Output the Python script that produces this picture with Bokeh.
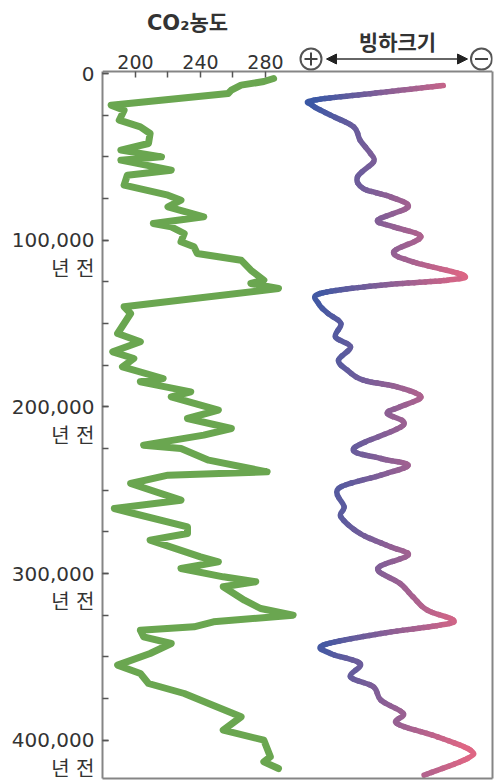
import math
import numpy as np
from bokeh.plotting import figure
from bokeh.models import Range1d, FixedTicker, Arrow, NormalHead, LinearAxis
from bokeh.core.properties import value
from bokeh.embed import file_html
from bokeh.resources import INLINE

# ---- data -------------------------------------------------------------
# Atmospheric CO2 (ppm) against age (years before present)
co2_age = [3000, 4800, 7000, 10000, 12000, 19000, 22000, 28000, 32000, 36000,
           42000, 46000, 50000, 52000, 58000, 61000, 67000, 73000, 76000, 80000,
           86000, 90000, 92000, 96000, 101000, 104000, 108000, 112000, 118000, 124000,
           126000, 129000, 140000, 144000, 156000, 161000, 167000, 171000, 176000, 183000,
           185000, 191000, 194000, 202000, 207000, 213000, 217000, 223000, 225000, 232000,
           239000, 241000, 246000, 256000, 261000, 264000, 272000, 276000, 280000, 290000,
           293000, 297000, 302000, 305000, 308000, 316000, 321000, 325000, 329000, 332000,
           334000, 338000, 342000, 348000, 355000, 360000, 366000, 372000, 378000, 386000,
           394000, 400000, 410000, 413000, 417000]
co2_ppm = [285, 279, 265, 259, 257, 185, 193, 190, 203, 209,
           208, 191, 216, 191, 222, 195, 193, 220, 228, 220,
           242, 211, 222, 230, 228, 236, 238, 265, 271, 279,
           271, 288, 193, 197, 189, 203, 186, 199, 192, 217,
           203, 234, 222, 251, 232, 259, 242, 205, 228, 245,
           281, 220, 197, 228, 187, 199, 232, 232, 209, 240,
           251, 228, 254, 274, 254, 267, 277, 297, 248, 236,
           203, 205, 222, 209, 189, 203, 208, 230, 245, 265,
           254, 279, 283, 279, 288]

# Relative ice volume (0 = least ice, 10 = most ice) against age
ice_age = [7200, 11400, 16000, 19000, 25000, 32000, 40000, 48000, 53000, 62000,
           69000, 74000, 80000, 88000, 92000, 98000, 107000, 113000, 121000, 124000,
           127000, 132000, 138000, 144000, 150000, 158000, 164000, 172000, 178000, 184000,
           188000, 194000, 200000, 204000, 211000, 225000, 231000, 235000, 241000, 249000,
           260000, 266000, 276000, 284000, 289000, 297000, 306000, 314000, 322000, 328000,
           331000, 336000, 343000, 348000, 354000, 362000, 368000, 376000, 384000, 390000,
           398000, 406000, 411000, 421000]
ice_vol = [1.7, 5.6, 9.8, 9.9, 8.75, 7.3, 6.9, 6.25, 6.06, 7.06,
           6.7, 5.0, 3.9, 5.8, 4.8, 3.1, 4.8, 3.6, 0.44, 1.44,
           5.6, 9.4, 9.5, 8.9, 8.1, 8.44, 7.5, 8.25, 7.7, 6.7,
           4.6, 3.1, 4.4, 5.2, 4.2, 7.3, 5.6, 3.9, 5.6, 8.25,
           7.9, 8.1, 6.9, 5.0, 3.9, 5.8, 4.4, 3.6, 2.7, 1.06,
           1.9, 5.6, 9.2, 8.75, 6.9, 7.5, 6.06, 5.6, 4.2, 4.6,
           2.06, 0.0, 0.19, 2.9]

co2_ticks = [200, 220, 240, 260, 280]
co2_tick_labels = {200: "200", 220: "", 240: "240", 260: "", 280: "280"}
age_ticks = [0, 100000, 200000, 300000, 400000]
age_tick_labels = {0: "0", 100000: "100,000", 200000: "200,000",
                   300000: "300,000", 400000: "400,000"}
age_suffix = "년 전"

# ---- geometry -----------------------------------------------------------
W, H = 494, 782
FL, FR, FB = 102, 492, 778        # plot area edges in page pixels (top is 0)
BOX_TOP_PX = 71                   # top line of the boxed chart
X0, X1 = 179.7, 419.7             # CO2 axis span across the box
YRS_PER_PX = 600.0                # 100,000 years = 166.7 px
AGE0_PX = 73                      # row of the 0-year tick
A_TOP = -AGE0_PX * YRS_PER_PX                 # age at the top of the plot area
A_BOT = (FB - AGE0_PX) * YRS_PER_PX          # age at the bottom line
BOX_TOP = (BOX_TOP_PX - AGE0_PX) * YRS_PER_PX


def px_x(px):
    """page x pixel -> CO2 axis units"""
    return X0 + (px - FL) * (X1 - X0) / (FR - FL)


def px_y(py):
    """page y pixel -> age axis units"""
    return (py - AGE0_PX) * YRS_PER_PX


TXT = "#333333"
NUM_FONT = "DejaVu Sans, Noto Sans CJK KR"
KR_FONT = "Noto Sans CJK KR"
LINE_GREY = "#858585"

p = figure(width=W, height=H, output_backend="svg", toolbar_location=None,
           x_range=Range1d(X0, X1), y_range=Range1d(A_BOT, A_TOP),
           x_axis_location="above", min_border=0)
p.min_border_left = FL
p.min_border_right = W - FR
p.min_border_top = 0
p.min_border_bottom = H - FB
p.grid.visible = False
p.background_fill_color = "white"
p.border_fill_color = "white"
p.outline_line_color = None

# ice volume lives on its own horizontal scale (more ice to the left)
p.extra_x_ranges = {"ice": Range1d(23.0, -1.375)}

# CO2 axis sits on the top line of the box, ticks pointing inwards
xa = p.xaxis[0]
xa.fixed_location = BOX_TOP
xa.ticker = FixedTicker(ticks=co2_ticks)
xa.major_label_overrides = co2_tick_labels
xa.major_tick_in, xa.major_tick_out = 6, 0
xa.minor_tick_line_color = None
xa.axis_line_color = LINE_GREY
xa.axis_line_width = 2
xa.major_tick_line_color = "#555555"
xa.major_tick_line_width = 1.5
xa.major_label_text_font = "DejaVu Sans"
xa.major_label_text_font_size = "19px"
xa.major_label_text_color = TXT
xa.major_label_standoff = 3

# age axis on the left edge of the box
ya = p.yaxis[0]
ya.bounds = (BOX_TOP, A_BOT)
ya.ticker = FixedTicker(ticks=age_ticks, minor_ticks=list(range(0, 425001, 25000)))
ya.major_label_overrides = {
    k: (v if k == 0 else " \n" + v + "\n" + age_suffix) for k, v in age_tick_labels.items()
}
ya.major_tick_in, ya.major_tick_out = 6, 0
ya.minor_tick_in, ya.minor_tick_out = 6, 0
ya.axis_line_color = LINE_GREY
ya.axis_line_width = 2
ya.major_tick_line_color = "#555555"
ya.minor_tick_line_color = "#555555"
ya.major_tick_line_width = 1.5
ya.minor_tick_line_width = 1.5
ya.major_label_text_font = NUM_FONT
ya.major_label_text_font_size = "20px"
ya.major_label_text_color = TXT
ya.major_label_text_align = "right"
ya.major_label_text_line_height = 1.2
ya.major_label_standoff = 8


def plain_edge(**kw):
    ax = LinearAxis(ticker=FixedTicker(ticks=[], minor_ticks=[]), **kw)
    ax.major_label_text_font_size = "0px"
    ax.major_label_standoff = 0
    ax.major_tick_out = 0
    ax.major_tick_in = 0
    ax.axis_line_color = LINE_GREY
    ax.axis_line_width = 2
    return ax


p.add_layout(plain_edge(bounds=(BOX_TOP, A_BOT)), "right")
p.add_layout(plain_edge(), "below")

# ---- header: titles and the ice-size direction arrow --------------------
p.text(x=[px_x(187)], y=[px_y(22)], text=["CO₂농도"], text_font=value(NUM_FONT),
       text_font_size="21px", text_font_style="bold", text_color=TXT,
       text_align="center", text_baseline="middle")
p.text(x=[px_x(397)], y=[px_y(40)], text=["빙하크기"], text_font=value(KR_FONT),
       text_font_size="21px", text_font_style="bold", text_color=TXT,
       text_align="center", text_baseline="middle")

sym_x = [px_x(310.5), px_x(481)]
sym_y = px_y(58.5)
p.scatter(x=sym_x, y=[sym_y, sym_y], marker="circle", size=21,
          fill_color="white", line_color="#555555", line_width=2)
p.scatter(x=[sym_x[0]], y=[sym_y], marker="cross", size=13,
          line_color="#444444", line_width=2)
p.scatter(x=[sym_x[1]], y=[sym_y], marker="dash", size=13,
          line_color="#444444", line_width=2)
p.add_layout(Arrow(x_start=px_x(326), y_start=sym_y, x_end=px_x(467), y_end=sym_y,
                   line_color="#333333", line_width=1.5,
                   start=NormalHead(size=10, fill_color="#222222", line_color="#222222"),
                   end=NormalHead(size=10, fill_color="#222222", line_color="#222222")))

# ---- CO2 curve --------------------------------------------------------------
p.line(co2_ppm, co2_age, line_color="#6aa650", line_width=7,
       line_join="round", line_cap="round")

# ---- ice volume curve: smooth Bezier path, blue (more ice) to pink (less) ----
BLUE = np.array([58, 88, 165])
PINK = np.array([222, 102, 132])


def ice_colour(v):
    t = min(max((9.9 - v) / 9.6, 0.0), 1.0)
    r, g, b = (BLUE + (PINK - BLUE) * t).round().astype(int)
    return f"#{r:02x}{g:02x}{b:02x}"


def split(c, t):
    """de Casteljau split of cubic c=(p0,c0,c1,p1) at t -> (left, right)"""
    p0, p1, p2, p3 = c
    a, b, d = p0 + (p1 - p0) * t, p1 + (p2 - p1) * t, p2 + (p3 - p2) * t
    e, f = a + (b - a) * t, b + (d - b) * t
    g = e + (f - e) * t
    return (p0, a, e, g), (g, f, d, p3)


def piece(c, t0, t1):
    left, _ = split(c, t1)
    if t0 == 0:
        return left
    _, right = split(left, t0 / t1)
    return right


pts = [np.array([v, a], dtype=float) for v, a in zip(ice_vol, ice_age)]
n_pts = len(pts)
bz = {k: [] for k in ("x0", "y0", "x1", "y1", "cx0", "cy0", "cx1", "cy1", "col")}
for i in range(n_pts - 1):
    pa, pb = pts[i], pts[i + 1]
    pm = pts[i - 1] if i > 0 else pa
    pn = pts[i + 2] if i + 2 < n_pts else pb
    curve = (pa, pa + (pb - pm) / 6.0, pb - (pn - pa) / 6.0, pb)
    n = max(1, int(math.ceil(abs(pb[0] - pa[0]) * 3)))
    for k in range(n):
        q0, q1, q2, q3 = piece(curve, k / n, (k + 1) / n)
        bz["x0"].append(q0[0]); bz["y0"].append(q0[1])
        bz["x1"].append(q3[0]); bz["y1"].append(q3[1])
        bz["cx0"].append(q1[0]); bz["cy0"].append(q1[1])
        bz["cx1"].append(q2[0]); bz["cy1"].append(q2[1])
        bz["col"].append(ice_colour((q0[0] + q3[0]) / 2))

p.bezier(x0=bz["x0"], y0=bz["y0"], x1=bz["x1"], y1=bz["y1"],
         cx0=bz["cx0"], cy0=bz["cy0"], cx1=bz["cx1"], cy1=bz["cy1"],
         line_color=bz["col"], line_width=5.5, line_cap="round", x_range_name="ice")

open("out.html", "w").write(file_html(p, INLINE))
